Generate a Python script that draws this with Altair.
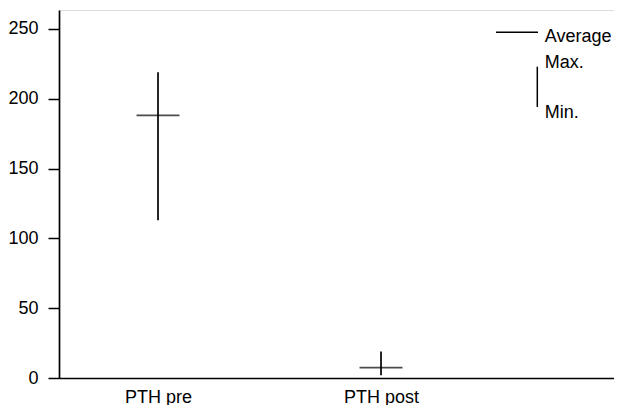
import altair as alt
import pandas as pd

categories = ["PTH pre", "PTH post"]
positions = [1, 2]
averages = [188, 7.5]
maxima = [219, 19]
minima = [113, 2]

df = pd.DataFrame({"cat": categories, "pos": positions, "avg": averages, "max": maxima, "min": minima})

FONT = "Liberation Sans"
FS = 18
W, H = 555, 368

label_expr = " : ".join(
    [f"datum.value == {p} ? '{c}'" for p, c in zip(positions[:-1], categories[:-1])] + [f"'{categories[-1]}'"]
)

xscale = alt.Scale(domain=[0.556, 0.556 + W / 223], nice=False, zero=False)
yscale = alt.Scale(domain=[0, 263.5], nice=False)

base = alt.Chart(df)

vert = base.mark_rule(color="black", strokeWidth=1.7).encode(
    x=alt.X("pos:Q", scale=xscale,
            axis=alt.Axis(values=positions, labelExpr=label_expr, ticks=False, grid=False,
                          title=None, domainColor="black", domainWidth=1.7, labelPadding=10,
                          labelFont=FONT, labelFontSize=FS, labelColor="black")),
    y=alt.Y("min:Q", scale=yscale,
            axis=alt.Axis(values=[0, 50, 100, 150, 200, 250], grid=False, title=None,
                          tickSize=11, tickColor="black", tickWidth=1.5, domainColor="black",
                          domainWidth=1.7, labelPadding=10, labelFont=FONT, labelFontSize=FS,
                          labelColor="black")),
    y2="max:Q",
)

avg = base.mark_tick(color="black", orient="horizontal", size=43, thickness=1.7).encode(
    x=alt.X("pos:Q", scale=xscale),
    y=alt.Y("avg:Q", scale=yscale),
)

legend_df = pd.DataFrame({"k": [0]})
lb = alt.Chart(legend_df)
leg_h = lb.mark_rule(color="black", strokeWidth=1.5).encode(
    x=alt.value(437), x2=alt.value(479), y=alt.value(22.3))
leg_v = lb.mark_rule(color="black", strokeWidth=1.5).encode(
    x=alt.value(478.3), y=alt.value(56.7), y2=alt.value(97))
t1 = lb.mark_text(text="Average", align="left", baseline="alphabetic", font=FONT, fontSize=FS, color="black").encode(
    x=alt.value(485.7), y=alt.value(31.5))
t2 = lb.mark_text(text="Max.", align="left", baseline="alphabetic", font=FONT, fontSize=FS, color="black").encode(
    x=alt.value(485.7), y=alt.value(57.7))
t3 = lb.mark_text(text="Min.", align="left", baseline="alphabetic", font=FONT, fontSize=FS, color="black").encode(
    x=alt.value(485.7), y=alt.value(108.3))

chart = alt.layer(vert, avg, leg_h, leg_v, t1, t2, t3).properties(
    width=W, height=H,
    autosize=alt.AutoSizeParams(type="none"),
    padding={"left": 51, "top": 2, "right": 0, "bottom": 27},
).configure_view(stroke=None).configure(background="white")

chart.save("out.html", embed_options={"renderer": "svg", "actions": False})
